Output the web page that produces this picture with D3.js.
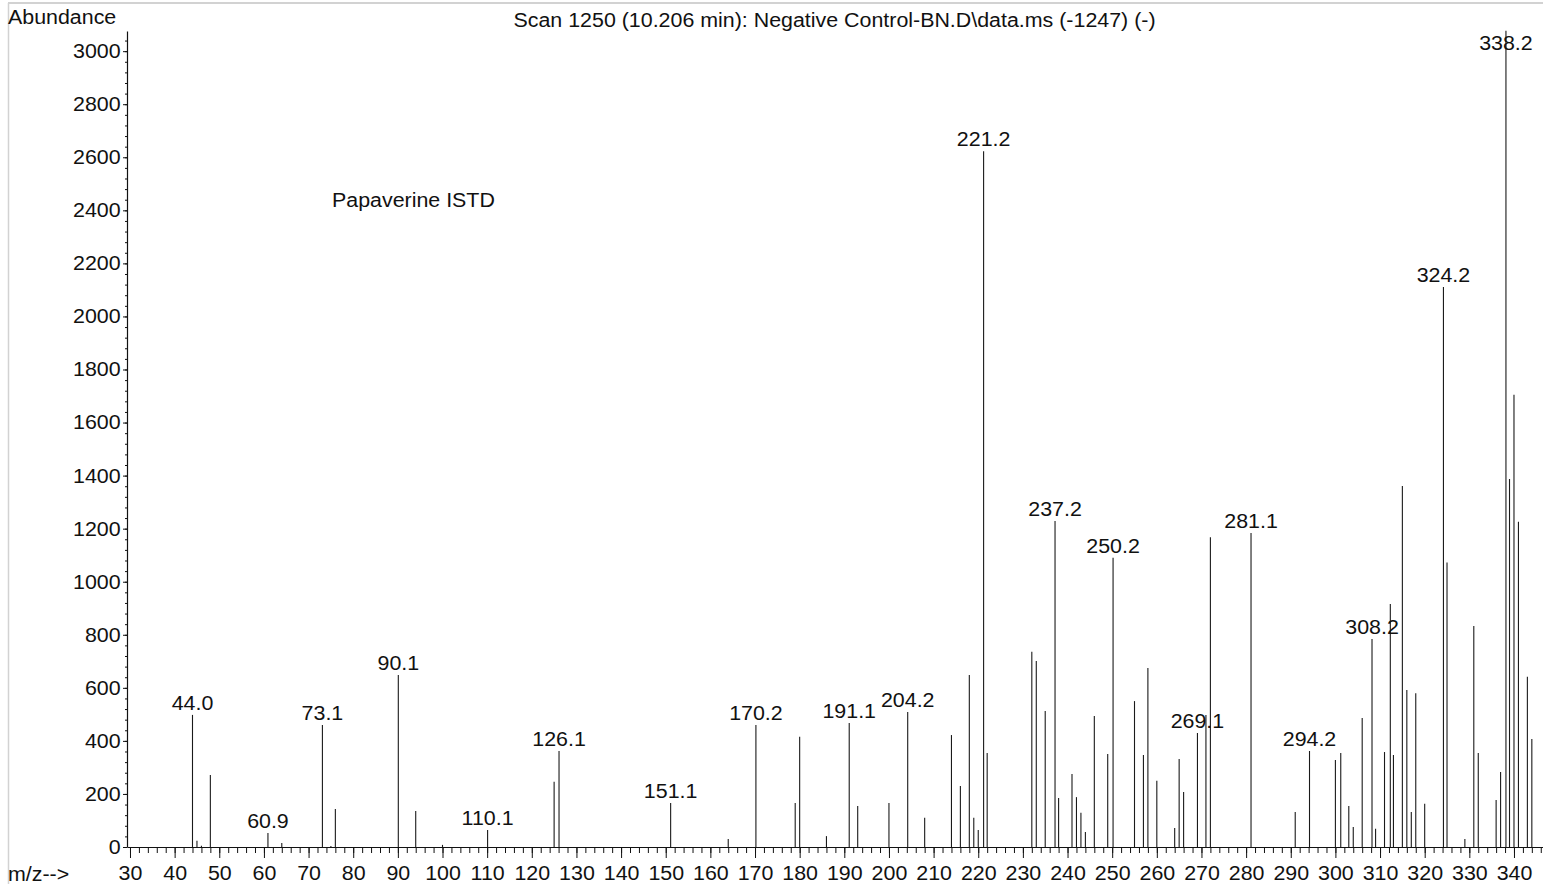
<!DOCTYPE html>
<html>
<head>
<meta charset="utf-8">
<script src="https://cdn.jsdelivr.net/npm/d3@7"></script>
<style>
  html, body { margin: 0; padding: 0; background: #fff; }
  svg { display: block; }
  text { font-family: "Liberation Sans", Arial, Helvetica, sans-serif; fill: #111; }
</style>
</head>
<body>
<svg id="chart" width="1543" height="884"></svg>
<script>
// Mass spectrum, scan 1250 — m/z of each ion and its abundance
const mzValues = [
  44.0, 45, 46, 48, 60.9, 64, 73.1, 75, 76, 90.1, 94, 100, 110.1, 125, 126.1,
  151.1, 164, 170.2, 179, 180, 186, 191.1, 193, 200, 204.2, 208, 214, 216,
  218, 219, 220, 221.2, 222, 232, 233, 235, 237.2, 238, 241, 242, 243, 244,
  246, 249, 250.2, 255, 257, 258, 260, 264, 265, 266, 269.1, 271, 272, 281.1,
  291, 294.2, 300, 301.2, 303, 304, 306, 308.2, 309, 311, 312.3, 313, 315,
  316, 317, 318, 320, 324.2, 325, 329, 331, 332, 336, 337, 338.2, 339, 340,
  341, 343, 344
];
const abundances = [
  498, 24, 5, 271, 53, 15, 460, 4, 143, 648, 136, 8, 64, 246, 362,
  166, 30, 460, 166, 416, 41, 467, 155, 166, 509, 110, 422, 230,
  648, 110, 64, 2623, 354, 736, 701, 513, 1229, 185, 275, 188, 129, 57,
  494, 351, 1090, 550, 347, 675, 250, 72, 332, 207, 430, 498, 1168, 1184,
  132, 362, 328, 354, 155, 75, 486, 784, 69, 358, 916, 347, 1361,
  592, 132, 580, 163, 2111, 1072, 30, 833, 354, 177, 283, 3077, 1387, 1705,
  1226, 642, 407
];
// Peaks annotated with their m/z
const labelledMz = [
  44.0, 60.9, 73.1, 90.1, 110.1, 126.1, 151.1, 170.2, 191.1, 204.2, 221.2,
  237.2, 250.2, 269.1, 281.1, 294.2, 308.2, 324.2, 338.2
];
const yTickValues = d3.range(0, 3001, 200);
const yMinorTickValues = d3.range(0, 3077, 40);
const xTickValues = d3.range(30, 341, 10);
const xMinorTickValues = d3.range(30, 347, 2);

const titleText = "Scan 1250 (10.206 min): Negative Control-BN.D\\data.ms (-1247) (-)";
const yAxisTitle = "Abundance";
const xAxisTitle = "m/z-->";
const compoundNote = "Papaverine ISTD";

const peaks = mzValues.map((mz, i) => ({ mz, value: abundances[i] }));

const svg = d3.select("#chart");
const W = 1543, H = 884;
const FS = 20;
const WIDEN = "scale(1.07,1)";   // the font is drawn slightly wide

const x = d3.scaleLinear().domain([29.33, 346.5]).range([127, 1543]);
const y = d3.scaleLinear().domain([0, 3076]).range([847, 31]);

// text placed at (px, py), widened about its anchor
function addText(px, py, str, anchor) {
  return svg.append("text")
    .attr("transform", `translate(${px},${py}) ${WIDEN}`)
    .attr("text-anchor", anchor || "start")
    .attr("font-size", FS)
    .text(str);
}

// light frame along top and left edge
svg.append("line").attr("x1", 8).attr("x2", W).attr("y1", 3).attr("y2", 3)
  .attr("stroke", "#d2d2d2").attr("stroke-width", 2);
svg.append("line").attr("x1", 8.5).attr("x2", 8.5).attr("y1", 3).attr("y2", H)
  .attr("stroke", "#d2d2d2").attr("stroke-width", 1.5);

// minor ticks
svg.append("g").attr("transform", "translate(0,847)")
  .call(d3.axisBottom(x).tickValues(xMinorTickValues).tickSize(6).tickSizeOuter(0).tickFormat(""))
  .call(g => g.select(".domain").remove())
  .selectAll("line").attr("stroke", "#111");
svg.append("g").attr("transform", "translate(127,0)")
  .call(d3.axisLeft(y).tickValues(yMinorTickValues).tickSize(2).tickSizeOuter(0).tickFormat(""))
  .call(g => g.select(".domain").remove())
  .selectAll("line").attr("stroke", "#111");

// x axis
const gx = svg.append("g").attr("transform", "translate(0,847)")
  .call(d3.axisBottom(x).tickValues(xTickValues).tickSize(11).tickSizeOuter(0)
    .tickPadding(8).tickFormat(d3.format("d")));
gx.select(".domain").attr("stroke", "#111").attr("stroke-width", 1.2);
gx.selectAll(".tick line").attr("stroke", "#111");
gx.selectAll(".tick text").attr("font-size", FS).attr("font-family", null)
  .attr("fill", "#111").attr("transform", WIDEN);

// y axis
const gy = svg.append("g").attr("transform", "translate(127,0)")
  .call(d3.axisLeft(y).tickValues(yTickValues).tickSize(4).tickSizeOuter(0)
    .tickPadding(2).tickFormat(d3.format("d")));
gy.select(".domain").attr("stroke", "#111").attr("stroke-width", 1.2);
gy.selectAll(".tick line").attr("stroke", "#111");
gy.selectAll(".tick text").attr("font-size", FS).attr("font-family", null)
  .attr("fill", "#111").attr("transform", WIDEN);

// peaks as vertical sticks
svg.append("g").selectAll("line.peak").data(peaks).join("line")
  .attr("class", "peak")
  .attr("x1", d => x(d.mz)).attr("x2", d => x(d.mz))
  .attr("y1", y(0)).attr("y2", d => y(d.value))
  .attr("stroke", "#1a1a1a").attr("stroke-width", 1.1);

// peak annotations
const labelled = peaks.filter(d => labelledMz.includes(d.mz));
svg.append("g").selectAll("text.plabel").data(labelled).join("text")
  .attr("class", "plabel")
  .attr("transform", d => `translate(${x(d.mz)},${Math.max(y(d.value) - 5, 50)}) ${WIDEN}`)
  .attr("text-anchor", "middle")
  .attr("font-size", FS)
  .text(d => d.mz.toFixed(1));

// titles and notes
addText(8, 24, yAxisTitle);
addText(8, 881, xAxisTitle);
addText(834.5, 27, titleText, "middle");
addText(332, 207, compoundNote);
</script>
</body>
</html>
